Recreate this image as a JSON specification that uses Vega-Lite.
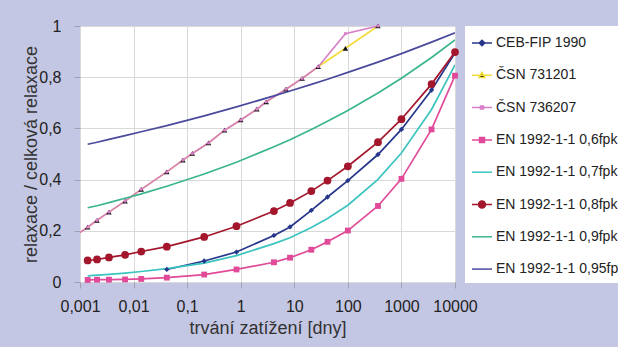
{
  "$schema": "https://vega.github.io/schema/vega-lite/v6.json",
  "autosize": {"type": "none"},
  "width": 375,
  "height": 256,
  "padding": {"left": 80, "top": 26, "right": 163, "bottom": 65},
  "background": "#c4c7e3",
  "config": {
    "font": "Liberation Sans",
    "view": {"fill": "white", "stroke": "#b8b8c0"},
    "axis": {
      "labelFontSize": 16, "labelColor": "#222222", "titleFontSize": 18, "titleFontWeight": "normal",
      "titleColor": "#333333", "gridColor": "#d9d9d9", "domain": false, "tickColor": "#a0a0b0", "tickSize": 6
    },
    "legend": {
      "orient": "none", "legendX": 385, "legendY": 0, "fillColor": "white", "padding": 6,
      "symbolSize": 400, "rowPadding": 14.3, "labelFontSize": 14, "labelColor": "#222222",
      "labelLimit": 400, "symbolStrokeWidth": 1.5, "labelOffset": 3
    }
  },
  "data": {"values": [
    {"s": "CEB-FIP 1990", "t": 0.0417, "v": 0.049},
    {"s": "CEB-FIP 1990", "t": 0.208, "v": 0.082},
    {"s": "CEB-FIP 1990", "t": 0.833, "v": 0.117},
    {"s": "CEB-FIP 1990", "t": 4.17, "v": 0.182},
    {"s": "CEB-FIP 1990", "t": 8.33, "v": 0.215},
    {"s": "CEB-FIP 1990", "t": 20.8, "v": 0.280},
    {"s": "CEB-FIP 1990", "t": 41.7, "v": 0.332},
    {"s": "CEB-FIP 1990", "t": 100, "v": 0.396},
    {"s": "CEB-FIP 1990", "t": 365, "v": 0.498},
    {"s": "CEB-FIP 1990", "t": 1000, "v": 0.596},
    {"s": "CEB-FIP 1990", "t": 3650, "v": 0.750},
    {"s": "CEB-FIP 1990", "t": 10000, "v": 0.895},

    {"s": "ČSN 731201", "t": 0.000694, "v": 0.170},
    {"s": "ČSN 731201", "t": 0.00139, "v": 0.214},
    {"s": "ČSN 731201", "t": 0.00208, "v": 0.241},
    {"s": "ČSN 731201", "t": 0.00347, "v": 0.273},
    {"s": "ČSN 731201", "t": 0.00694, "v": 0.316},
    {"s": "ČSN 731201", "t": 0.0139, "v": 0.362},
    {"s": "ČSN 731201", "t": 0.0417, "v": 0.430},
    {"s": "ČSN 731201", "t": 0.0833, "v": 0.476},
    {"s": "ČSN 731201", "t": 0.125, "v": 0.502},
    {"s": "ČSN 731201", "t": 0.25, "v": 0.543},
    {"s": "ČSN 731201", "t": 0.5, "v": 0.593},
    {"s": "ČSN 731201", "t": 1, "v": 0.633},
    {"s": "ČSN 731201", "t": 2, "v": 0.675},
    {"s": "ČSN 731201", "t": 3, "v": 0.704},
    {"s": "ČSN 731201", "t": 7, "v": 0.753},
    {"s": "ČSN 731201", "t": 14, "v": 0.795},
    {"s": "ČSN 731201", "t": 28, "v": 0.841},
    {"s": "ČSN 731201", "t": 90, "v": 0.913},
    {"s": "ČSN 731201", "t": 365, "v": 1.0},

    {"s": "ČSN 736207", "t": 0.000694, "v": 0.170},
    {"s": "ČSN 736207", "t": 0.00139, "v": 0.214},
    {"s": "ČSN 736207", "t": 0.00208, "v": 0.241},
    {"s": "ČSN 736207", "t": 0.00347, "v": 0.273},
    {"s": "ČSN 736207", "t": 0.00694, "v": 0.316},
    {"s": "ČSN 736207", "t": 0.0139, "v": 0.362},
    {"s": "ČSN 736207", "t": 0.0417, "v": 0.430},
    {"s": "ČSN 736207", "t": 0.0833, "v": 0.476},
    {"s": "ČSN 736207", "t": 0.125, "v": 0.502},
    {"s": "ČSN 736207", "t": 0.25, "v": 0.543},
    {"s": "ČSN 736207", "t": 0.5, "v": 0.593},
    {"s": "ČSN 736207", "t": 1, "v": 0.633},
    {"s": "ČSN 736207", "t": 2, "v": 0.675},
    {"s": "ČSN 736207", "t": 3, "v": 0.704},
    {"s": "ČSN 736207", "t": 7, "v": 0.753},
    {"s": "ČSN 736207", "t": 14, "v": 0.795},
    {"s": "ČSN 736207", "t": 28, "v": 0.841},
    {"s": "ČSN 736207", "t": 90, "v": 0.970},
    {"s": "ČSN 736207", "t": 365, "v": 1.0},

    {"s": "EN 1992-1-1 0,6fpk", "t": 0.00139, "v": 0.008},
    {"s": "EN 1992-1-1 0,6fpk", "t": 0.00208, "v": 0.009},
    {"s": "EN 1992-1-1 0,6fpk", "t": 0.00347, "v": 0.009},
    {"s": "EN 1992-1-1 0,6fpk", "t": 0.00694, "v": 0.010},
    {"s": "EN 1992-1-1 0,6fpk", "t": 0.0139, "v": 0.012},
    {"s": "EN 1992-1-1 0,6fpk", "t": 0.0417, "v": 0.017},
    {"s": "EN 1992-1-1 0,6fpk", "t": 0.208, "v": 0.029},
    {"s": "EN 1992-1-1 0,6fpk", "t": 0.833, "v": 0.049},
    {"s": "EN 1992-1-1 0,6fpk", "t": 4.17, "v": 0.077},
    {"s": "EN 1992-1-1 0,6fpk", "t": 8.33, "v": 0.095},
    {"s": "EN 1992-1-1 0,6fpk", "t": 20.8, "v": 0.126},
    {"s": "EN 1992-1-1 0,6fpk", "t": 41.7, "v": 0.157},
    {"s": "EN 1992-1-1 0,6fpk", "t": 100, "v": 0.201},
    {"s": "EN 1992-1-1 0,6fpk", "t": 365, "v": 0.297},
    {"s": "EN 1992-1-1 0,6fpk", "t": 1000, "v": 0.403},
    {"s": "EN 1992-1-1 0,6fpk", "t": 3650, "v": 0.596},
    {"s": "EN 1992-1-1 0,6fpk", "t": 10000, "v": 0.806},

    {"s": "EN 1992-1-1 0,7fpk", "t": 0.00139, "v": 0.024},
    {"s": "EN 1992-1-1 0,7fpk", "t": 0.00208, "v": 0.027},
    {"s": "EN 1992-1-1 0,7fpk", "t": 0.00347, "v": 0.030},
    {"s": "EN 1992-1-1 0,7fpk", "t": 0.00694, "v": 0.035},
    {"s": "EN 1992-1-1 0,7fpk", "t": 0.0139, "v": 0.041},
    {"s": "EN 1992-1-1 0,7fpk", "t": 0.0417, "v": 0.052},
    {"s": "EN 1992-1-1 0,7fpk", "t": 0.208, "v": 0.074},
    {"s": "EN 1992-1-1 0,7fpk", "t": 0.833, "v": 0.103},
    {"s": "EN 1992-1-1 0,7fpk", "t": 4.17, "v": 0.150},
    {"s": "EN 1992-1-1 0,7fpk", "t": 8.33, "v": 0.173},
    {"s": "EN 1992-1-1 0,7fpk", "t": 20.8, "v": 0.213},
    {"s": "EN 1992-1-1 0,7fpk", "t": 41.7, "v": 0.248},
    {"s": "EN 1992-1-1 0,7fpk", "t": 100, "v": 0.300},
    {"s": "EN 1992-1-1 0,7fpk", "t": 365, "v": 0.401},
    {"s": "EN 1992-1-1 0,7fpk", "t": 1000, "v": 0.504},
    {"s": "EN 1992-1-1 0,7fpk", "t": 3650, "v": 0.674},
    {"s": "EN 1992-1-1 0,7fpk", "t": 10000, "v": 0.848},

    {"s": "EN 1992-1-1 0,8fpk", "t": 0.00139, "v": 0.084},
    {"s": "EN 1992-1-1 0,8fpk", "t": 0.00208, "v": 0.088},
    {"s": "EN 1992-1-1 0,8fpk", "t": 0.00347, "v": 0.096},
    {"s": "EN 1992-1-1 0,8fpk", "t": 0.00694, "v": 0.106},
    {"s": "EN 1992-1-1 0,8fpk", "t": 0.0139, "v": 0.119},
    {"s": "EN 1992-1-1 0,8fpk", "t": 0.0417, "v": 0.138},
    {"s": "EN 1992-1-1 0,8fpk", "t": 0.208, "v": 0.176},
    {"s": "EN 1992-1-1 0,8fpk", "t": 0.833, "v": 0.218},
    {"s": "EN 1992-1-1 0,8fpk", "t": 4.17, "v": 0.277},
    {"s": "EN 1992-1-1 0,8fpk", "t": 8.33, "v": 0.309},
    {"s": "EN 1992-1-1 0,8fpk", "t": 20.8, "v": 0.355},
    {"s": "EN 1992-1-1 0,8fpk", "t": 41.7, "v": 0.396},
    {"s": "EN 1992-1-1 0,8fpk", "t": 100, "v": 0.452},
    {"s": "EN 1992-1-1 0,8fpk", "t": 365, "v": 0.546},
    {"s": "EN 1992-1-1 0,8fpk", "t": 1000, "v": 0.636},
    {"s": "EN 1992-1-1 0,8fpk", "t": 3650, "v": 0.773},
    {"s": "EN 1992-1-1 0,8fpk", "t": 10000, "v": 0.898},

    {"s": "EN 1992-1-1 0,9fpk", "t": 0.00139, "v": 0.290},
    {"s": "EN 1992-1-1 0,9fpk", "t": 0.00208, "v": 0.298},
    {"s": "EN 1992-1-1 0,9fpk", "t": 0.00347, "v": 0.310},
    {"s": "EN 1992-1-1 0,9fpk", "t": 0.00694, "v": 0.327},
    {"s": "EN 1992-1-1 0,9fpk", "t": 0.0139, "v": 0.344},
    {"s": "EN 1992-1-1 0,9fpk", "t": 0.0417, "v": 0.374},
    {"s": "EN 1992-1-1 0,9fpk", "t": 0.208, "v": 0.422},
    {"s": "EN 1992-1-1 0,9fpk", "t": 0.833, "v": 0.468},
    {"s": "EN 1992-1-1 0,9fpk", "t": 4.17, "v": 0.528},
    {"s": "EN 1992-1-1 0,9fpk", "t": 8.33, "v": 0.556},
    {"s": "EN 1992-1-1 0,9fpk", "t": 20.8, "v": 0.596},
    {"s": "EN 1992-1-1 0,9fpk", "t": 41.7, "v": 0.628},
    {"s": "EN 1992-1-1 0,9fpk", "t": 100, "v": 0.670},
    {"s": "EN 1992-1-1 0,9fpk", "t": 365, "v": 0.738},
    {"s": "EN 1992-1-1 0,9fpk", "t": 1000, "v": 0.796},
    {"s": "EN 1992-1-1 0,9fpk", "t": 3650, "v": 0.877},
    {"s": "EN 1992-1-1 0,9fpk", "t": 10000, "v": 0.946},

    {"s": "EN 1992-1-1 0,95fpk", "t": 0.00139, "v": 0.538},
    {"s": "EN 1992-1-1 0,95fpk", "t": 0.00208, "v": 0.546},
    {"s": "EN 1992-1-1 0,95fpk", "t": 0.00347, "v": 0.557},
    {"s": "EN 1992-1-1 0,95fpk", "t": 0.00694, "v": 0.572},
    {"s": "EN 1992-1-1 0,95fpk", "t": 0.0139, "v": 0.587},
    {"s": "EN 1992-1-1 0,95fpk", "t": 0.0417, "v": 0.611},
    {"s": "EN 1992-1-1 0,95fpk", "t": 0.208, "v": 0.649},
    {"s": "EN 1992-1-1 0,95fpk", "t": 0.833, "v": 0.684},
    {"s": "EN 1992-1-1 0,95fpk", "t": 4.17, "v": 0.727},
    {"s": "EN 1992-1-1 0,95fpk", "t": 8.33, "v": 0.746},
    {"s": "EN 1992-1-1 0,95fpk", "t": 20.8, "v": 0.772},
    {"s": "EN 1992-1-1 0,95fpk", "t": 41.7, "v": 0.792},
    {"s": "EN 1992-1-1 0,95fpk", "t": 100, "v": 0.819},
    {"s": "EN 1992-1-1 0,95fpk", "t": 365, "v": 0.859},
    {"s": "EN 1992-1-1 0,95fpk", "t": 1000, "v": 0.892},
    {"s": "EN 1992-1-1 0,95fpk", "t": 3650, "v": 0.937},
    {"s": "EN 1992-1-1 0,95fpk", "t": 10000, "v": 0.973}
  ]},
  "encoding": {
    "x": {
      "field": "t", "type": "quantitative",
      "scale": {"type": "log", "domain": [0.001, 10000], "nice": false},
      "axis": {
        "title": "trvání zatížení [dny]", "values": [0.001, 0.01, 0.1, 1, 10, 100, 1000, 10000],
        "labelExpr": "replace(format(datum.value, '~g'), '.', ',')",
        "labelPadding": 10, "titlePadding": 5, "labelFlush": false
      }
    },
    "y": {
      "field": "v", "type": "quantitative",
      "scale": {"domain": [0, 1], "nice": false},
      "axis": {
        "title": "relaxace / celková relaxace", "values": [0, 0.2, 0.4, 0.6, 0.8, 1],
        "labelExpr": "replace(format(datum.value, '~g'), '.', ',')",
        "labelPadding": 13, "titleX": -40, "titleY": 128, "labelFlush": false
      }
    }
  },
  "layer": [
    {
      "mark": {"type": "line", "strokeWidth": 1.7, "clip": true},
      "encoding": {
        "color": {
          "field": "s", "type": "nominal",
          "scale": {
            "domain": ["CEB-FIP 1990", "ČSN 731201", "ČSN 736207", "EN 1992-1-1 0,6fpk", "EN 1992-1-1 0,7fpk", "EN 1992-1-1 0,8fpk", "EN 1992-1-1 0,9fpk", "EN 1992-1-1 0,95fpk"],
            "range": ["#26368a", "#f2dc3c", "#d77fc6", "#e04a98", "#3cc4c0", "#a3162c", "#3bb58e", "#4b4b9e"]
          },
          "legend": {
            "title": null,
            "encode": {
              "symbols": {
                "update": {
                  "shape": {"signal": "datum.value === 'CEB-FIP 1990' ? 'M-1,0L1,0M-0.28,0L0,-0.28L0.28,0L0,0.28Z' : datum.value === 'ČSN 731201' ? 'M-1,0L1,0M0,-0.3L0.3,0.22L-0.3,0.22Z' : datum.value === 'ČSN 736207' ? 'M-1,0L1,0M-0.15,-0.15L0.15,-0.15L0.15,0.15L-0.15,0.15Z' : datum.value === 'EN 1992-1-1 0,6fpk' ? 'M-1,0L1,0M-0.25,-0.25L0.25,-0.25L0.25,0.25L-0.25,0.25Z' : datum.value === 'EN 1992-1-1 0,8fpk' ? 'M-1,0L1,0M-0.35,0A0.35,0.35,0,1,1,0.35,0A0.35,0.35,0,1,1,-0.35,0Z' : 'M-1,0L1,0'"},
                  "fill": {"signal": "datum.value === 'CEB-FIP 1990' ? '#26368a' : datum.value === 'ČSN 731201' ? '#000000' : datum.value === 'ČSN 736207' ? '#d77fc6' : datum.value === 'EN 1992-1-1 0,6fpk' ? '#e04a98' : datum.value === 'EN 1992-1-1 0,8fpk' ? '#a3162c' : 'transparent'"}
                }
              }
            }
          }
        }
      }
    },
    {
      "transform": [{"filter": "datum.s === 'CEB-FIP 1990'"}],
      "mark": {"type": "point", "shape": "diamond", "filled": true, "size": 28, "color": "#26368a", "opacity": 1}
    },
    {
      "transform": [{"filter": "datum.s === 'ČSN 731201' && datum.t >= 0.001"}],
      "mark": {"type": "point", "shape": "triangle-up", "filled": true, "size": 30, "color": "#111111", "opacity": 1}
    },
    {
      "transform": [{"filter": "datum.s === 'ČSN 736207' && datum.t >= 0.001"}],
      "mark": {"type": "point", "shape": "square", "filled": true, "size": 8, "color": "#d77fc6", "opacity": 1}
    },
    {
      "transform": [{"filter": "datum.s === 'EN 1992-1-1 0,6fpk'"}],
      "mark": {"type": "point", "shape": "square", "filled": true, "size": 34, "color": "#e04a98", "opacity": 1}
    },
    {
      "transform": [{"filter": "datum.s === 'EN 1992-1-1 0,8fpk'"}],
      "mark": {"type": "point", "shape": "circle", "filled": true, "size": 60, "color": "#a3162c", "opacity": 1}
    }
  ]
}
